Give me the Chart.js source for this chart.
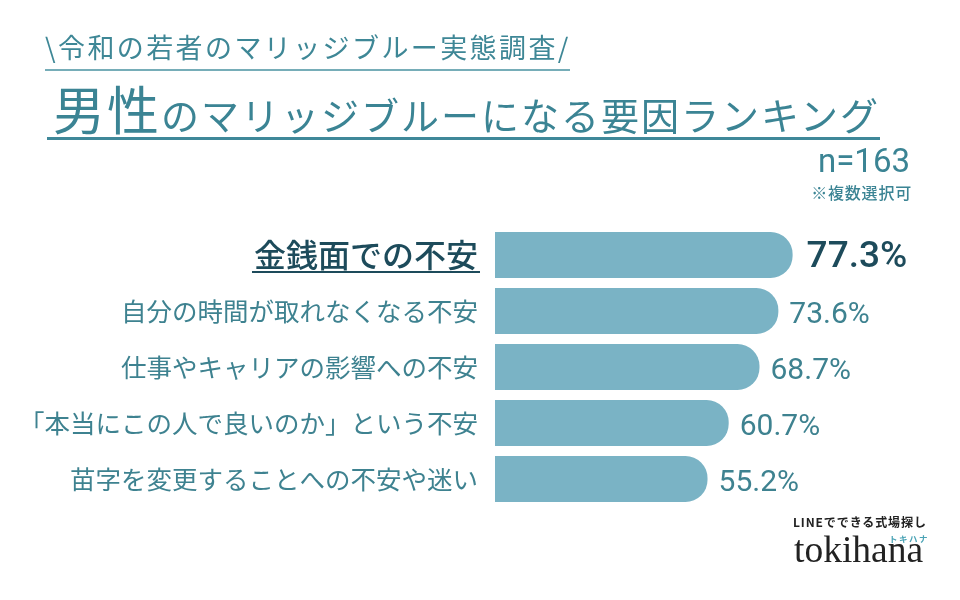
<!DOCTYPE html>
<html lang="ja">
<head>
<meta charset="utf-8">
<script src="https://cdn.jsdelivr.net/npm/chart.js@4/dist/chart.umd.min.js"></script>
<style>
  html, body { margin:0; padding:0; background:#ffffff; }
  #wrap { position:relative; width:960px; height:600px; overflow:hidden; background:#fff; font-family:"Noto Sans CJK JP", sans-serif; }
  canvas { position:absolute; left:0; top:0; }
  .t1 { position:absolute; left:45px; top:29px; font-size:27px; color:#3e8796; letter-spacing:2.4px; line-height:36px; white-space:nowrap; }
  .u1 { position:absolute; left:45px; top:69px; width:525px; height:2px; background:#76adb8; }
  .t2 { position:absolute; left:53px; top:80px; font-size:38px; color:#3b8494; letter-spacing:2px; line-height:56px; white-space:nowrap; }
  .t2 b { font-size:52px; font-weight:400; letter-spacing:2px; }
  .u2 { position:absolute; left:47px; top:137px; width:833px; height:3px; background:#3f8899; }
  .n { position:absolute; right:50px; top:141px; font-family:Roboto, sans-serif; font-size:33px; color:#3b8494; line-height:40px; }
  .note { position:absolute; right:48px; top:181px; font-size:16px; font-weight:500; color:#3b8494; line-height:22px; letter-spacing:0.8px; }
  .line { position:absolute; left:793px; top:512px; font-size:12px; font-weight:700; color:#222; letter-spacing:0.9px; line-height:20px; white-space:nowrap; }
  .kana { position:absolute; left:889px; top:532px; font-size:8.5px; font-weight:700; color:#4aa3b5; letter-spacing:1.5px; line-height:12px; }
  .logo { position:absolute; left:794px; top:528px; font-family:"Liberation Serif", serif; font-size:37.5px; color:#222; line-height:44px; }
</style>
</head>
<body>
<div id="wrap">
  <canvas id="c" width="960" height="600"></canvas>
  <div class="t1">\令和の若者のマリッジブルー実態調査/</div>
  <div class="u1"></div>
  <div class="t2"><b>男性</b>のマリッジブルーになる要因ランキング</div>
  <div class="u2"></div>
  <div class="n">n=163</div>
  <div class="note">※複数選択可</div>
  <div class="line">LINEでできる式場探し</div>
  <div class="kana">トキハナ</div>
  <div class="logo">tokihana</div>
</div>
<script>
const categories = [
  "金銭面での不安",
  "自分の時間が取れなくなる不安",
  "仕事やキャリアの影響への不安",
  "「本当にこの人で良いのか」という不安",
  "苗字を変更することへの不安や迷い"
];
const values = [77.3, 73.6, 68.7, 60.7, 55.2];
const valueLabels = ["77.3%", "73.6%", "68.7%", "60.7%", "55.2%"];

const CJK = '"Noto Sans CJK JP", sans-serif';

const valuePlugin = {
  id: 'valueLabels',
  afterDatasetsDraw(chart) {
    const ctx = chart.ctx;
    const meta = chart.getDatasetMeta(0);
    ctx.save();
    ctx.textBaseline = 'middle';
    ctx.textAlign = 'left';
    meta.data.forEach((bar, i) => {
      if (i === 0) {
        ctx.font = '500 37px Roboto, sans-serif';
        ctx.fillStyle = '#1d4b5b';
        ctx.fillText(valueLabels[i], bar.x + 14, bar.y + 3);
      } else {
        ctx.font = '400 30px Roboto, sans-serif';
        ctx.fillStyle = '#3e8290';
        ctx.fillText(valueLabels[i], bar.x + 11, bar.y + 4);
      }
    });
    ctx.restore();
  },
  afterDraw(chart) {
    const ctx = chart.ctx;
    const y = chart.scales.y;
    const right = chart.chartArea.left - 17;
    const cy = y.getPixelForTick(0);
    ctx.save();
    ctx.font = '500 32px ' + CJK;
    const w = ctx.measureText(categories[0]).width;
    ctx.strokeStyle = '#1d4b5b';
    ctx.lineWidth = 2;
    ctx.beginPath();
    ctx.moveTo(right - w - 2, cy + 17);
    ctx.lineTo(right + 2, cy + 17);
    ctx.stroke();
    ctx.restore();
  }
};

new Chart(document.getElementById('c'), {
  type: 'bar',
  data: {
    labels: categories,
    datasets: [{
      data: values,
      backgroundColor: '#7ab3c5',
      borderWidth: 0,
      borderRadius: 22,
      borderSkipped: 'start',
      barPercentage: 0.82,
      categoryPercentage: 1.0
    }]
  },
  options: {
    indexAxis: 'y',
    responsive: false,
    animation: false,
    devicePixelRatio: 1,
    layout: { padding: { left: 0, right: 80, top: 227, bottom: 93 } },
    plugins: { legend: { display: false }, tooltip: { enabled: false }, title: { display: false } },
    scales: {
      x: { display: false, min: 0, max: 100 },
      y: {
        afterFit(scale) { scale.width = 495; },
        grid: { display: false, drawTicks: false },
        border: { display: false },
        ticks: {
          padding: 17,
          color: (c) => c.index === 0 ? '#1d4b5b' : '#3e8290',
          font: (c) => c.index === 0
            ? { family: CJK, size: 32, weight: '500' }
            : { family: CJK, size: 25.5, weight: '400' }
        }
      }
    }
  },
  plugins: [valuePlugin]
});
</script>
</body>
</html>
